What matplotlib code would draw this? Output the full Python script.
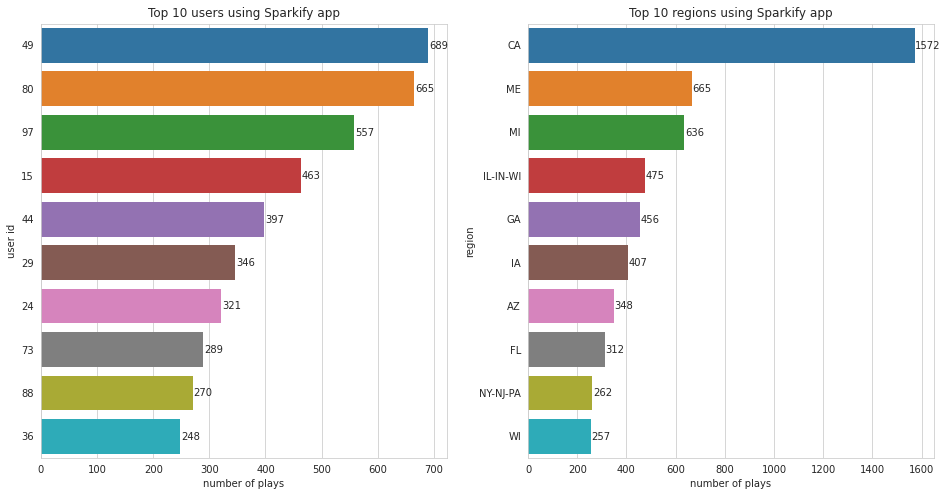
import matplotlib
matplotlib.use("Agg")
from matplotlib import pyplot as plt
import seaborn as sns

user_ids = ["49", "80", "97", "15", "44", "29", "24", "73", "88", "36"]
user_plays = [689, 665, 557, 463, 397, 346, 321, 289, 270, 248]
regions = ["CA", "ME", "MI", "IL-IN-WI", "GA", "IA", "AZ", "FL", "NY-NJ-PA", "WI"]
region_plays = [1572, 665, 636, 475, 456, 407, 348, 312, 262, 257]

sns.set_style("whitegrid")

fig, (ax1, ax2) = plt.subplots(1, 2, figsize=(947 / 72, 496 / 72), dpi=72)


def draw_bars(ax, labels, values, title, ylabel):
    sns.barplot(x=values, y=labels, hue=labels, palette="tab10", orient="h",
                legend=False, saturation=0.75, linewidth=0, ax=ax)
    for i, v in enumerate(values):
        ax.text(v + 2, i + 0.01, str(v), va="center", ha="left", fontsize=10, color="#262626")
    ax.set_title(title, fontsize=12, color="#262626", pad=6)
    ax.set_xlabel("number of plays", fontsize=10, color="#262626", labelpad=4)
    ax.set_ylabel(ylabel, fontsize=10, color="#262626", labelpad=4)
    ax.tick_params(axis="x", labelsize=10, length=0, pad=6.5)
    ax.tick_params(axis="y", labelsize=10, length=0, pad=7)
    ax.grid(axis="y", visible=False)


draw_bars(ax1, user_ids, user_plays, "Top 10 users using Sparkify app", "user id")
draw_bars(ax2, regions, region_plays, "Top 10 regions using Sparkify app", "region")

# axes box, in pixels
ax1.set_position([41 / 947, 1 - 458.2 / 496, (447 - 41) / 947, 434.7 / 496])
ax2.set_position([528 / 947, 1 - 458.2 / 496, (934 - 528) / 947, 434.7 / 496])

fig.savefig("out.png", dpi=72)
